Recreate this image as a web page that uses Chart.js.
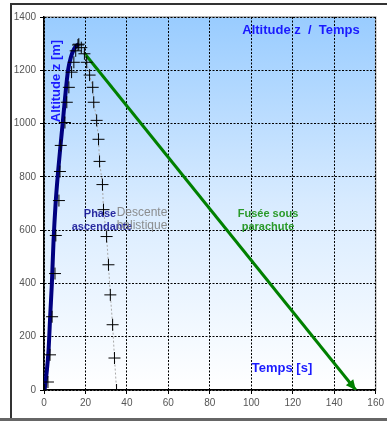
<!DOCTYPE html>
<html>
<head>
<meta charset="utf-8">
<script src="https://cdn.jsdelivr.net/npm/chart.js@4/dist/chart.umd.min.js"></script>
<style>
  html, body { margin: 0; padding: 0; background: #fff; overflow: hidden; }
  #wrap { width: 387px; height: 421px; }
</style>
</head>
<body>
<div id="wrap"><canvas id="chart" width="387" height="421"></canvas></div>
<script>
// ===== DATA =====
var ascentLineT = [0.3, 1.2, 2.2, 3.0, 3.8, 4.6, 5.6, 6.8, 8.0, 9.0, 10.2, 11.6, 13.0, 14.5, 15.8, 16.8];
var ascentLineZ = [0, 60, 150, 280, 400, 560, 700, 820, 920, 1000, 1100, 1200, 1250, 1280, 1293, 1298];
var ascentMarkT = [0.3, 1.9, 2.9, 3.9, 5.3, 5.7, 7.2, 7.7, 8.1, 10.1, 11.0, 12.0, 13.3, 14.4, 15.3, 16.4];
var ascentMarkZ = [0, 30, 132, 275, 437, 580, 711, 820, 918, 1004, 1080, 1136, 1193, 1230, 1273, 1295];
var descentT = [16.8, 18.0, 19.5, 20.6, 22.0, 23.5, 24.0, 25.4, 26.3, 26.8, 28.2, 28.7, 30.2, 31.1, 32.0, 33.1, 34.0, 35.0];
var descentZ = [1298, 1285, 1262, 1230, 1182, 1136, 1080, 1012, 941, 858, 771, 677, 576, 470, 357, 245, 120, 0];
var paraT = [19.6, 150.4];
var paraZ = [1263, 0];
var xTicks = [0, 20, 40, 60, 80, 100, 120, 140, 160];
var yTicks = [0, 200, 400, 600, 800, 1000, 1200, 1400];

var toPoints = function (xs, ys) {
    return xs.map(function (x, i) { return { x: x, y: ys[i] }; });
};

var FONT = '"Liberation Sans", Arial, sans-serif';

// Frame, plot background, annotations and arrow.
var decor = {
    id: 'decor',
    beforeDraw: function (chart) {
        var ctx = chart.ctx;
        var a = chart.chartArea;
        ctx.save();
        ctx.fillStyle = '#fff';
        ctx.fillRect(0, 0, chart.width, chart.height);
        var g = ctx.createLinearGradient(0, a.top, 0, a.bottom);
        g.addColorStop(0, '#99ccff');
        g.addColorStop(0.5, '#d8ebff');
        g.addColorStop(1, '#ffffff');
        ctx.fillStyle = g;
        ctx.fillRect(a.left, a.top, a.right - a.left, a.bottom - a.top);
        ctx.strokeStyle = '#a0a0a0';
        ctx.lineWidth = 1.5;
        ctx.strokeRect(a.left, a.top, a.right - a.left, a.bottom - a.top);
        // outer frame
        ctx.strokeStyle = '#333';
        ctx.lineWidth = 2;
        ctx.beginPath();
        ctx.moveTo(11, 419);
        ctx.lineTo(11, 4);
        ctx.lineTo(387, 4);
        ctx.stroke();
        ctx.fillStyle = '#666';
        ctx.fillRect(0, 418, 387, 3);
        ctx.restore();
    },
    afterDatasetsDraw: function (chart) {
        var ctx = chart.ctx;
        var xs = chart.scales.x;
        var ys = chart.scales.y;
        ctx.save();

        // arrow head at parachute landing
        var x0 = xs.getPixelForValue(paraT[0]), y0 = ys.getPixelForValue(paraZ[0]);
        var x1 = xs.getPixelForValue(paraT[1]), y1 = ys.getPixelForValue(paraZ[1]);
        var ang = Math.atan2(y1 - y0, x1 - x0);
        ctx.fillStyle = '#008000';
        ctx.beginPath();
        ctx.moveTo(x1, y1);
        ctx.lineTo(x1 - 11 * Math.cos(ang - 0.45), y1 - 11 * Math.sin(ang - 0.45));
        ctx.lineTo(x1 - 11 * Math.cos(ang + 0.45), y1 - 11 * Math.sin(ang + 0.45));
        ctx.closePath();
        ctx.fill();

        ctx.textAlign = 'center';
        ctx.textBaseline = 'middle';

        ctx.font = 'bold 13px ' + FONT;
        ctx.fillStyle = '#1a1aff';
        ctx.fillText('Altitude z  /  Temps', 301, 30);
        ctx.fillText('Temps [s]', 282, 368);

        ctx.save();
        ctx.translate(56, 81);
        ctx.rotate(-Math.PI / 2);
        ctx.fillText('Altitude z [m]', 0, 0);
        ctx.restore();

        ctx.font = 'bold 11px ' + FONT;
        ctx.fillStyle = 'rgba(20, 20, 150, 0.9)';
        ctx.fillText('Phase', 100, 214);
        ctx.fillText('ascendante', 102, 227);

        ctx.font = '12px ' + FONT;
        ctx.fillStyle = 'rgba(130, 130, 130, 0.9)';
        ctx.fillText('Descente', 142, 213);
        ctx.fillText('balistique', 142, 226);

        ctx.font = 'bold 11px ' + FONT;
        ctx.fillStyle = '#2a9a2a';
        ctx.fillText('Fusée sous', 268, 214);
        ctx.fillText('parachute', 268, 227);

        ctx.restore();
    }
};

new Chart(document.getElementById('chart'), {
    type: 'scatter',
    data: {
        datasets: [{
            data: toPoints(ascentMarkT, ascentMarkZ),
            showLine: false,
            pointStyle: 'cross',
            pointRadius: 6,
            pointBorderWidth: 1,
            pointBorderColor: '#000'
        }, {
            data: toPoints(descentT, descentZ),
            showLine: true,
            borderColor: '#a8a8a8',
            borderWidth: 1,
            borderDash: [2, 2],
            pointStyle: 'cross',
            pointRadius: 6,
            pointBorderWidth: 1,
            pointBorderColor: '#000'
        }, {
            data: toPoints(ascentLineT, ascentLineZ),
            showLine: true,
            borderColor: '#000080',
            borderWidth: 4,
            cubicInterpolationMode: 'monotone',
            pointRadius: 0
        }, {
            data: toPoints(paraT, paraZ),
            showLine: true,
            borderColor: '#008000',
            borderWidth: 3,
            pointRadius: 0
        }]
    },
    options: {
        responsive: false,
        animation: false,
        layout: { padding: { top: 17, right: 9, left: 0, bottom: 0 } },
        plugins: {
            legend: { display: false },
            tooltip: { enabled: false }
        },
        scales: {
            x: {
                type: 'linear',
                min: 0,
                max: 160,
                afterBuildTicks: function (s) { s.ticks = xTicks.map(function (v) { return { value: v }; }); },
                afterFit: function (s) { s.height = 31; },
                grid: { color: '#000', lineWidth: 1, tickLength: 4, tickColor: '#000' },
                border: { display: true, color: '#000', width: 1.5, dash: [2, 1.5] },
                ticks: {
                    color: '#555', font: { family: FONT, size: 10 }, padding: 3, maxRotation: 0,
                    callback: function (v) { return String(v); }
                }
            },
            y: {
                type: 'linear',
                min: 0,
                max: 1400,
                afterBuildTicks: function (s) { s.ticks = yTicks.map(function (v) { return { value: v }; }); },
                afterFit: function (s) { s.width = 44; },
                grid: { color: '#000', lineWidth: 1, tickLength: 4, tickColor: '#000' },
                border: { display: true, color: '#000', width: 1.5, dash: [2, 1.5] },
                ticks: {
                    color: '#555', font: { family: FONT, size: 10 }, padding: 4,
                    callback: function (v) { return String(v); }
                }
            }
        }
    },
    plugins: [decor]
});
</script>
</body>
</html>
